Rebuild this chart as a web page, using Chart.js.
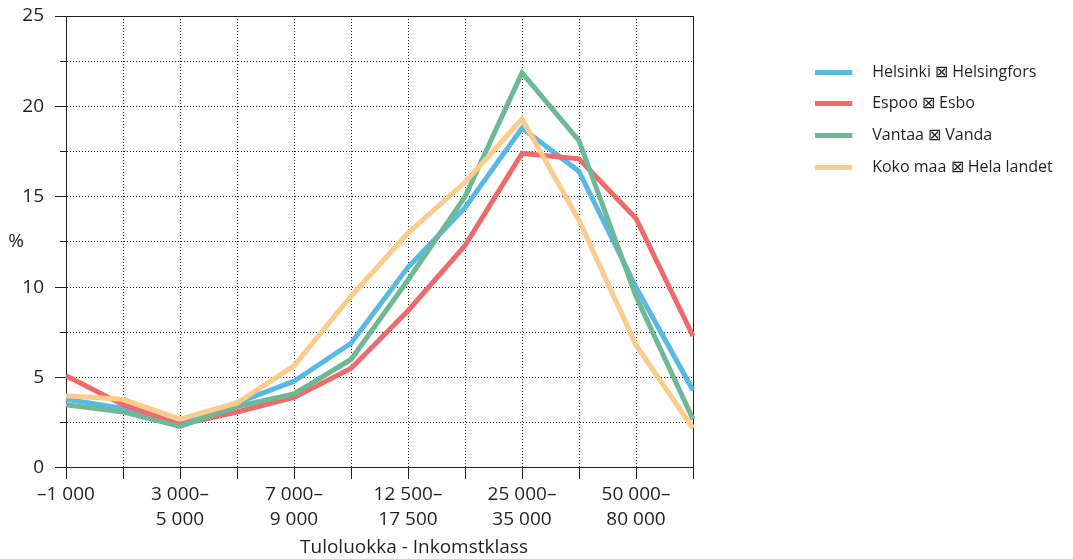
<!DOCTYPE html>
<html>
<head>
<meta charset="utf-8">
<script src="https://cdn.jsdelivr.net/npm/chart.js@4.4.1/dist/chart.umd.min.js"></script>
<style>
  html, body { margin: 0; padding: 0; background: #ffffff; }
  #wrap { width: 1073px; height: 559px; }
</style>
</head>
<body>
<div id="wrap"><canvas id="c" width="1073" height="559"></canvas></div>
<script>
// ---- Data ----
const categories = ["–1 000", "1 000–3 000", "3 000–5 000", "5 000–7 000", "7 000–9 000", "9 000–12 500",
                    "12 500–17 500", "17 500–25 000", "25 000–35 000", "35 000–50 000", "50 000–80 000", "80 000–"];
const tickLabels = ["–1 000", "", ["3 000–", "5 000"], "", ["7 000–", "9 000"], "",
                    ["12 500–", "17 500"], "", ["25 000–", "35 000"], "", ["50 000–", "80 000"], ""];
const seriesNames = ["Helsinki ⊠ Helsingfors", "Espoo ⊠ Esbo", "Vantaa ⊠ Vanda", "Koko maa ⊠ Hela landet"];
const helsinki = [3.8, 3.3, 2.4, 3.6, 4.8, 6.9, 11.1, 14.4, 18.8, 16.4, 10.0, 4.3];
const espoo    = [5.1, 3.5, 2.4, 3.1, 3.9, 5.5, 8.7, 12.3, 17.4, 17.1, 13.8, 7.3];
const vantaa   = [3.5, 3.1, 2.3, 3.4, 4.1, 6.0, 10.4, 15.0, 21.85, 18.1, 9.5, 2.7];
const kokoMaa  = [4.0, 3.8, 2.7, 3.6, 5.65, 9.5, 13.0, 15.8, 19.3, 13.7, 6.8, 2.2];
const yTitle = "%";
const xTitle = "Tuloluokka - Inkomstklass";

// ---- Styling ----
const colors = ["#58b8e6", "#ee6a6b", "#6fb895", "#fdcb8b"];
const textColor = "#231f20";
const gridColor = "#222222";
const fontFamily = "'Open Sans', 'Noto Sans', sans-serif";

function legendSwatch(color) {
  const cv = document.createElement('canvas');
  cv.width = 49; cv.height = 5;
  const g = cv.getContext('2d');
  g.fillStyle = color;
  g.fillRect(0, 0, 37, 5);
  return cv;
}

const seriesData = [helsinki, espoo, vantaa, kokoMaa];
const drawOrder = [3, 2, 1, 0];
const datasets = seriesData.map((d, i) => ({
  label: seriesNames[i],
  data: d,
  borderColor: colors[i],
  backgroundColor: colors[i],
  borderWidth: 5,
  pointRadius: 0,
  pointHoverRadius: 0,
  pointStyle: legendSwatch(colors[i]),
  tension: 0,
  fill: false,
  order: drawOrder[i],
  borderJoinStyle: 'miter'
}));

const framePlugin = {
  id: 'frame',
  beforeDatasetsDraw(chart) {
    const {ctx, chartArea: a} = chart;
    ctx.save();
    ctx.strokeStyle = textColor;
    ctx.lineWidth = 1;
    ctx.beginPath();
    ctx.moveTo(a.left, Math.round(a.top) + 0.5);
    ctx.lineTo(Math.round(a.right) + 0.5, Math.round(a.top) + 0.5);
    ctx.lineTo(Math.round(a.right) + 0.5, a.bottom);
    ctx.stroke();
    ctx.restore();
  },
  afterDraw(chart) {
    const {ctx, chartArea: a} = chart;
    ctx.save();
    ctx.fillStyle = textColor;
    ctx.font = "19px " + fontFamily;
    ctx.textAlign = 'center';
    ctx.textBaseline = 'middle';
    ctx.fillText(yTitle, 16, (a.top + a.bottom) / 2);
    ctx.fillText(xTitle, 414, 548);
    ctx.restore();
  }
};

new Chart(document.getElementById('c'), {
  type: 'line',
  data: { labels: categories, datasets },
  plugins: [framePlugin],
  options: {
    responsive: false,
    animation: false,
    devicePixelRatio: 1,
    layout: { padding: { top: 0, right: 20, bottom: 24, left: 0 } },
    plugins: {
      tooltip: { enabled: false },
      legend: {
        position: 'right',
        align: 'start',
        maxWidth: 253.5,
        title: { display: true, text: ' ', padding: { top: 33.9, bottom: 0 }, font: { size: 12 } },
        labels: {
          usePointStyle: true,
          pointStyleWidth: 49,
          boxHeight: 16,
          padding: 15.7,
          color: textColor,
          font: { size: 16, family: fontFamily },
          sort: (a, b) => a.datasetIndex - b.datasetIndex
        }
      }
    },
    scales: {
      x: {
        type: 'category',
        offset: false,
        grid: { display: true, color: gridColor, lineWidth: 1, drawTicks: true, tickLength: 11, tickColor: textColor, tickWidth: 1 },
        border: { display: true, color: textColor, width: 1, dash: [1, 2] },
        ticks: {
          autoSkip: false, maxRotation: 0, minRotation: 0, padding: 3,
          color: textColor, font: { size: 19, family: fontFamily, lineHeight: 1.316 },
          callback: (v, i) => tickLabels[i]
        }
      },
      y: {
        type: 'linear',
        min: 0, max: 25,
        afterFit: s => { s.width = 66; s.paddingTop = 16; s.paddingBottom = 0; },
        grid: {
          display: true, color: gridColor, lineWidth: 1, drawTicks: true, tickLength: 11, tickColor: textColor, tickWidth: 1,
          tickBorderDash: c => (c.tick && Math.abs(c.tick.value % 5) > 0.01) ? [0, 5, 6, 100] : []
        },
        border: { display: true, color: textColor, width: 1, dash: [1, 2] },
        ticks: {
          stepSize: 2.5, padding: 11, color: textColor, font: { size: 19, family: fontFamily },
          callback: v => (Math.abs(v % 5) < 0.01 ? String(v) : '')
        }
      },
      pad: {
        type: 'linear',
        position: 'right',
        display: true,
        afterFit: s => { s.width = 106.5; },
        grid: { display: false, drawTicks: false },
        border: { display: false },
        ticks: { display: false }
      }
    }
  }
});
</script>
</body>
</html>
